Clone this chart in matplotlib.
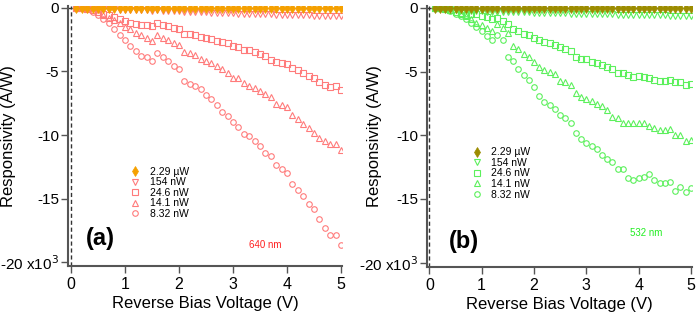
import matplotlib
matplotlib.use("Agg")
import matplotlib.pyplot as plt
import numpy as np

plt.rcParams['font.family'] = ['Liberation Sans', 'DejaVu Sans']

voltage = [round(0.1 * i, 1) for i in range(1, 51)]

labels = ["2.29 \u00b5W", "154 nW", "24.6 nW", "14.1 nW", "8.32 nW"]

# ---- 640 nm (a), values in units of 10^3 A/W ----
a_229uW = [0.0] * 50
a_154nW = [0, 0, 0, -0.02, -0.05, -0.07, -0.09, -0.11, -0.13, -0.15,
           -0.16, -0.18, -0.19, -0.2, -0.21, -0.2, -0.22, -0.24, -0.26, -0.28,
           -0.31, -0.32, -0.33, -0.35, -0.36, -0.37, -0.38, -0.4, -0.41, -0.42,
           -0.44, -0.45, -0.46, -0.47, -0.48, -0.5, -0.51, -0.52, -0.53, -0.55,
           -0.56, -0.57, -0.58, -0.59, -0.6, -0.61, -0.62, -0.63, -0.63, -0.66]
a_246nW = [0, 0, -0.05, -0.15, -0.3, -0.45, -0.55, -0.7, -0.85, -1.0,
           -1.15, -1.26, -1.31, -1.36, -1.41, -1.2, -1.31, -1.41, -1.57, -1.68,
           -2.04, -2.04, -2.15, -2.25, -2.4, -2.46, -2.57, -2.67, -2.77, -2.98,
           -3.09, -3.3, -3.35, -3.46, -3.6, -3.82, -4.08, -4.24, -4.35, -4.45,
           -4.76, -4.92, -5.13, -5.34, -5.5, -5.81, -6.07, -6.23, -6.13, -6.44]
a_141nW = [0, 0, -0.05, -0.15, -0.35, -0.55, -0.8, -0.94, -1.2, -1.47,
           -1.68, -1.94, -2.17, -2.38, -2.57, -2.15, -2.33, -2.51, -2.77, -2.93,
           -3.5, -3.56, -3.72, -3.98, -4.21, -4.35, -4.55, -4.82, -5.13, -5.5,
           -5.55, -5.92, -6.13, -6.3, -6.5, -6.8, -7.0, -7.54, -7.67, -7.8,
           -8.45, -8.7, -9.1, -9.45, -9.84, -10.2, -10.5, -10.7, -10.7, -11.2]
a_832nW = [0, -0.02, -0.1, -0.3, -0.55, -0.85, -1.2, -1.65, -2.12, -2.54,
           -2.96, -3.4, -3.77, -3.87, -4.19, -3.56, -3.87, -4.2, -4.55, -4.82,
           -5.73, -6.0, -6.13, -6.36, -6.86, -7.15, -7.6, -8.2, -8.53, -9.0,
           -9.37, -9.9, -10.1, -10.47, -10.84, -11.4, -11.68, -12.37, -12.66, -13.0,
           -13.84, -14.3, -14.8, -15.4, -15.8, -16.6, -17.3, -17.9, -17.9, -18.66]

# ---- 532 nm (b) ----
b_229uW = [0.0] * 50
b_154nW = [0, -0.02, -0.06, -0.1, -0.15, -0.19, -0.22, -0.25, -0.27, -0.28,
           -0.29, -0.3, -0.31, -0.32, -0.33, -0.33, -0.34, -0.35, -0.36, -0.37,
           -0.38, -0.39, -0.4, -0.41, -0.42, -0.43, -0.44, -0.45, -0.46, -0.47,
           -0.48, -0.49, -0.5, -0.5, -0.51, -0.52, -0.53, -0.54, -0.54, -0.55,
           -0.56, -0.57, -0.58, -0.58, -0.59, -0.6, -0.61, -0.61, -0.62, -0.63]
b_246nW = [0, 0, -0.05, -0.15, -0.3, -0.4, -0.55, -0.5, -0.45, -0.6,
           -0.75, -0.85, -0.8, -1.0, -1.25, -1.68, -1.84, -2.04, -2.15, -2.35,
           -2.51, -2.67, -2.77, -2.93, -3.09, -3.2, -3.4, -3.82, -3.98, -4.03,
           -4.24, -4.35, -4.5, -4.6, -4.82, -5.08, -5.13, -5.24, -5.39, -5.34,
           -5.39, -5.52, -5.65, -5.7, -5.76, -5.65, -5.78, -5.78, -6.07, -5.97]
b_141nW = [0, 0, -0.05, -0.15, -0.3, -0.45, -0.65, -0.9, -1.15, -1.34,
           -1.55, -1.78, -1.26, -1.6, -1.95, -2.96, -3.25, -3.64, -3.87, -4.24,
           -4.6, -4.87, -5.0, -5.18, -5.7, -5.78, -6.05, -6.7, -6.96, -7.17,
           -7.3, -7.54, -7.7, -8.0, -8.6, -8.66, -9.06, -9.06, -9.06, -9.0,
           -9.0, -9.27, -9.45, -9.58, -9.58, -9.53, -10.0, -10.0, -10.42, -10.37]
b_832nW = [0, -0.02, -0.1, -0.25, -0.45, -0.65, -0.9, -1.2, -1.47, -1.8,
           -2.2, -2.55, -2.12, -2.5, -3.87, -4.2, -4.82, -5.29, -5.65, -6.23,
           -6.9, -7.35, -7.6, -7.96, -8.43, -8.66, -9.06, -9.8, -10.3, -10.58,
           -10.84, -11.1, -11.54, -11.9, -12.07, -12.64, -12.64, -13.38, -13.5, -13.38,
           -13.3, -13.06, -13.5, -13.77, -13.77, -13.64, -14.37, -14.08, -14.48, -14.1]

yticks = [0, -5, -10, -15, -20]
yticklabels = ["0", "-5", "-10", "-15", "-20 x10$^3$"]
xticks = [0, 1, 2, 3, 4, 5]

fig = plt.figure(figsize=(6.98, 3.15), dpi=100)
axA = fig.add_axes([68 / 698, 49 / 315, 274 / 698, 260 / 315])
axB = fig.add_axes([427 / 698, 48.5 / 315, 265 / 698, 260.5 / 315])

panels = [
    (axA, [a_229uW, a_154nW, a_246nW, a_141nW, a_832nW], "#f5a000", "#ff7b7b",
     "(a)", (0.28, -18.1), "640 nm", (3.6, -18.66), "#ff2020", (-0.055, 5.02),
     -0.19),
    (axB, [b_229uW, b_154nW, b_246nW, b_141nW, b_832nW], "#9c8c00", "#5cf05c",
     "(b)", (0.38, -18.3), "532 nm", (4.15, -17.7), "#22ee22", (-0.045, 5.02),
     -0.17),
]

markers = ['v', 's', '^', 'o']
sizes = [4.2, 4.0, 4.2, 4.0]

for ax, series, dcol, col, tag, tagpos, wl, wlpos, wlcol, xl, ylx in panels:
    ax.axhline(0, color="#333333", lw=1.0, ls=(0, (3, 2)), zorder=1)
    ax.axvline(0, color="#333333", lw=1.0, ls=(0, (3, 2)), zorder=1)
    ax.plot(voltage, series[0], ls='none', marker='d', ms=5, mfc=dcol,
            mec=dcol, mew=0.5, label=labels[0], zorder=4)
    for k in range(4):
        ax.plot(voltage, series[k + 1], ls='none', marker=markers[k],
                ms=sizes[k], mfc='none', mec=col, mew=0.8,
                label=labels[k + 1], zorder=3)
    ax.set_xlim(*xl)
    ax.set_ylim(-20.3, 0.15)
    ax.set_yticks(yticks)
    ax.set_yticklabels(yticklabels)
    ax.set_xticks(xticks)
    for s in ['top', 'right']:
        ax.spines[s].set_visible(False)
    for s in ['left', 'bottom']:
        ax.spines[s].set_color("#555555")
        ax.spines[s].set_linewidth(1.5)
    ax.tick_params(direction='out', length=5, width=1.0, color="#555555",
                   labelsize=11.5, pad=3)
    ax.tick_params(axis='y', pad=1.5, labelsize=11)
    ax.set_xlabel("Reverse Bias Voltage (V)", fontsize=12, labelpad=3)
    ax.set_ylabel("Responsivity (A/W)", fontsize=12)
    ax.yaxis.set_label_coords(ylx, 0.5)
    ax.text(tagpos[0], tagpos[1], tag, fontsize=17, fontweight='bold',
            va='center', ha='left')
    ax.text(wlpos[0], wlpos[1], wl, fontsize=7, color=wlcol,
            va='center', ha='center')

axA.legend(loc='upper left', bbox_to_anchor=(0.20, 0.41), frameon=False,
           fontsize=7.5, labelspacing=0.05, handletextpad=0.9,
           handlelength=1.0, borderpad=0.2)
axB.legend(loc='upper left', bbox_to_anchor=(0.14, 0.485), frameon=False,
           fontsize=7.5, labelspacing=0.05, handletextpad=0.9,
           handlelength=1.0, borderpad=0.2)

fig.savefig("out.png", dpi=100)
